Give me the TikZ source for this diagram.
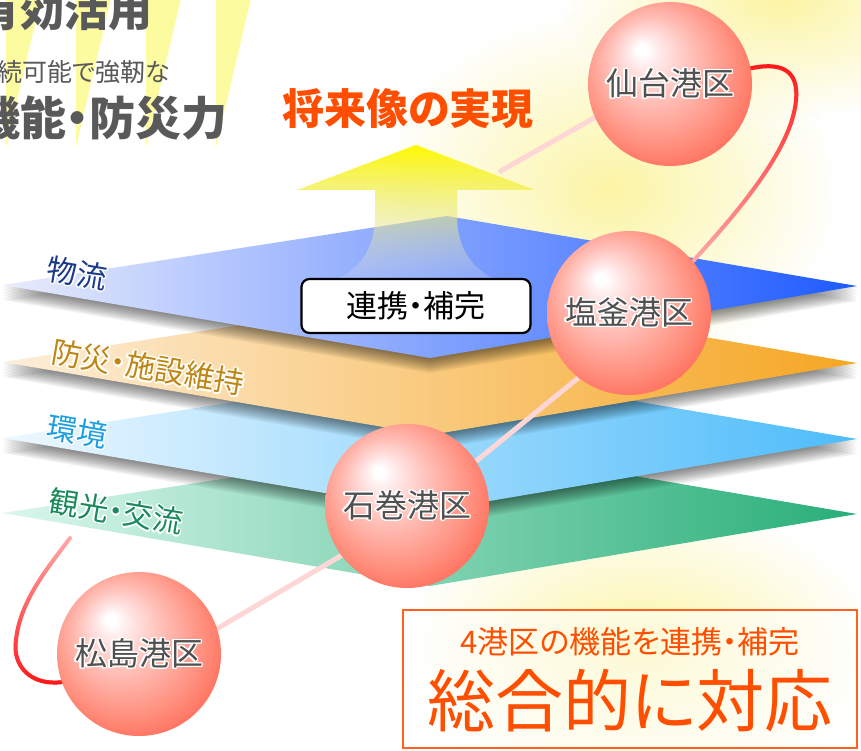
\documentclass[tikz,border=0pt]{standalone}
\usepackage{fontspec}
\setmainfont{Noto Sans CJK JP}[RawFeature=+palt]
\usepackage[copies]{contour}
\usetikzlibrary{fadings}

\definecolor{rayyellow}{RGB}{253,251,160}
\definecolor{glowyellow}{RGB}{252,245,165}
\definecolor{textgray}{RGB}{89,89,89}
\definecolor{portgray}{RGB}{80,80,80}
\definecolor{titleorange}{RGB}{255,78,0}
\definecolor{boxorange}{RGB}{255,96,32}
\definecolor{palepink}{RGB}{255,214,214}
\definecolor{curvered}{RGB}{255,20,20}
\definecolor{curvepink}{RGB}{255,170,170}
\definecolor{logiL}{RGB}{232,236,252}\definecolor{logiM}{RGB}{150,166,250}\definecolor{logiR}{RGB}{30,90,255}
\definecolor{bosaiL}{RGB}{253,238,217}\definecolor{bosaiM}{RGB}{246,196,128}\definecolor{bosaiR}{RGB}{245,166,35}
\definecolor{kankyoL}{RGB}{238,248,255}\definecolor{kankyoM}{RGB}{160,214,252}\definecolor{kankyoR}{RGB}{77,188,250}
\definecolor{kankoL}{RGB}{217,247,236}\definecolor{kankoM}{RGB}{140,212,180}\definecolor{kankoR}{RGB}{40,174,120}
\definecolor{logitext}{RGB}{26,58,138}
\definecolor{bosaitext}{RGB}{190,135,20}
\definecolor{kankyotext}{RGB}{26,160,224}
\definecolor{kankotext}{RGB}{26,138,90}
\definecolor{ballhi}{RGB}{255,232,232}
\definecolor{ballmid}{RGB}{255,190,182}
\definecolor{balllow}{RGB}{255,145,128}
\definecolor{balldeep}{RGB}{255,105,85}
\definecolor{balledge}{RGB}{255,85,60}

% the node box is the 50bp square of the shading
\pgfdeclareradialshading{ballpink}{\pgfpoint{-9bp}{11bp}}{color(0bp)=(white); color(1.5bp)=(white); color(5bp)=(ballhi); color(13bp)=(ballmid); color(23bp)=(balllow); color(31bp)=(balldeep); color(39bp)=(balledge)}
\tikzfading[name=fadedown, top color=transparent!0, bottom color=transparent!100]
\tikzfading[name=fadeup, top color=transparent!100, bottom color=transparent!0]
\tikzfading[name=softglow, inner color=transparent!0, outer color=transparent!100]
\tikzfading[name=arrowfade, top color=transparent!0, middle color=transparent!0, bottom color=transparent!80]

\pgfdeclarelayer{front}
\pgfsetlayers{main,front}

\contourlength{1.4pt}
\contournumber{16}

% one layer of the stack, shifted down by #1
\newcommand\layershape[1]{(3,{285+#1}) -- (447,{216+#1}) -- (857,{286+#1}) -- (430,{358+#1}) -- cycle}
\newcommand\layershadow[1]{\foreach \k in {1,...,10}{\fill[black,opacity=0.055,yshift=-\k*1.5pt] \layershape{#1};}}
\newcommand\sendaicurve{(sendai.11) .. controls (790,60) and (798,78) .. (796,100) .. controls (792,150) and (735,215) .. (shiogama.39)}
\newcommand\matsucurve{(matsushima.200) .. controls (30,686) and (12,665) .. (16,640) .. controls (20,600) and (50,565) .. (matsutail)}

\tikzset{
  layerlabel/.style={inner sep=0pt, rotate=-9.7, font=\fontsize{30}{30}\selectfont},
  port/.style={circle, minimum size=164pt, inner sep=0pt, shade, shading=ballpink,
    text=portgray, font=\fontsize{32}{32}\selectfont},
  paleline/.style={draw=palepink, line width=5pt},
  pinkcurve/.style={draw=curvepink, line width=4pt, line cap=round},
  redcurve/.style={draw=curvered, line width=4pt, line cap=round},
  linkbox/.style={draw=black, line width=2.2pt, rounded corners=8pt, fill=white,
    minimum width=229pt, minimum height=54pt, font=\fontsize{31}{31}\selectfont},
  summarybox/.style={draw=boxorange, line width=1.5pt, fill=white, fill opacity=0.55,
    minimum width=454pt, minimum height=138pt},
}

\begin{document}
\begin{tikzpicture}[x=1pt,y=-1pt]
\useasboundingbox (0,0) rectangle (861,750);
\fill[white] (0,0) rectangle (861,750);

% glows and rays
\fill[glowyellow, path fading=softglow] (610,190) ellipse (230 and 180);
\fill[glowyellow, path fading=softglow] (780,0) ellipse (220 and 120);
\fill[glowyellow, path fading=softglow] (640,650) ellipse (240 and 150);
\foreach \rx in {6,76,146,216}
  \fill[rayyellow] (\rx,147) -- (\rx,-10) -- (\rx+37,-10) -- cycle;

% headline texts
\node[anchor=west, inner sep=0pt, text=textgray, font=\fontsize{44}{44}\selectfont\bfseries] (yuko) at (-24,10) {有効活用};
\node[anchor=west, inner sep=0pt, text=textgray, font=\fontsize{25}{25}\selectfont] (jizoku) at (-3,72) {続可能で強靭な};
\node[anchor=west, inner sep=0pt, text=textgray, font=\fontsize{46}{46}\selectfont\bfseries] (kino) at (-26,118) {機能・防災力};
\node[inner sep=0pt, text=titleorange, font=\fontsize{42}{42}\selectfont\bfseries] (shorai) at (408,109) {将来像の実現};

% layers, bottom first
\shade[left color=kankoL, middle color=kankoM, right color=kankoR] \layershape{228};
\layershadow{153}
\shade[left color=kankyoL, middle color=kankyoM, right color=kankyoR] \layershape{153};
\layershadow{77}
\shade[left color=bosaiL, middle color=bosaiM, right color=bosaiR] \layershape{77};
\layershadow{0}
\shade[left color=logiL, middle color=logiM, right color=logiR] \layershape{0};

\node[layerlabel, text=logitext] (butsuryu) at (77,274) {\contour{white}{物流}};
\node[layerlabel, text=bosaitext] (bosai) at (148,368) {\contour{white}{防災・施設維持}};
\node[layerlabel, text=kankyotext] (kankyo) at (77,432) {\contour{white}{環境}};
\node[layerlabel, text=kankotext] (kanko) at (116,512) {\contour{white}{観光・交流}};

% arrow up to the headline
\shade[top color=yellow!95!orange, middle color=yellow!30, bottom color=logiM!40, path fading=arrowfade]
  (375,190) -- (375,215) .. controls (375,255) and (355,272) .. (328,284) -- (504,284)
  .. controls (477,272) and (457,255) .. (457,215) -- (457,190) -- (535,190) -- (416,145)
  -- (297,190) -- cycle;
\node[linkbox] (renkei) at (416,306) {連携・補完};

% ports, in front of their links
\coordinate (sendaitail) at (499,172);
\coordinate (matsutail) at (70,538);
\begin{pgfonlayer}{front}
\node[port] (sendai) at (670,84) {\contour{white}{仙台港区}};
\node[port] (shiogama) at (629,313) {\contour{white}{塩釜港区}};
\node[port] (ishinomaki) at (407,506) {\contour{white}{石巻港区}};
\node[port] (matsushima) at (139,654) {\contour{white}{松島港区}};
\end{pgfonlayer}

\draw[paleline] (sendai.204) -- (sendaitail);
\draw[paleline] (shiogama.232) -- (ishinomaki.33);
\draw[paleline] (ishinomaki.217) -- (matsushima.18);
\draw[pinkcurve] \sendaicurve;
\draw[redcurve, path fading=fadedown] \sendaicurve;
\draw[pinkcurve] \matsucurve;
\draw[redcurve, path fading=fadeup] \matsucurve;

% summary
\node[summarybox] (summary) at (630,679) {};
\node[inner sep=0pt, text=titleorange, font=\fontsize{31}{31}\selectfont] (sumline) at (630,642) {4港区の機能を連携・補完};
\node[inner sep=0pt, text=titleorange, font=\fontsize{68}{68}\selectfont] (sumtitle) at (630,701) {総合的に対応};
\end{tikzpicture}
\end{document}
